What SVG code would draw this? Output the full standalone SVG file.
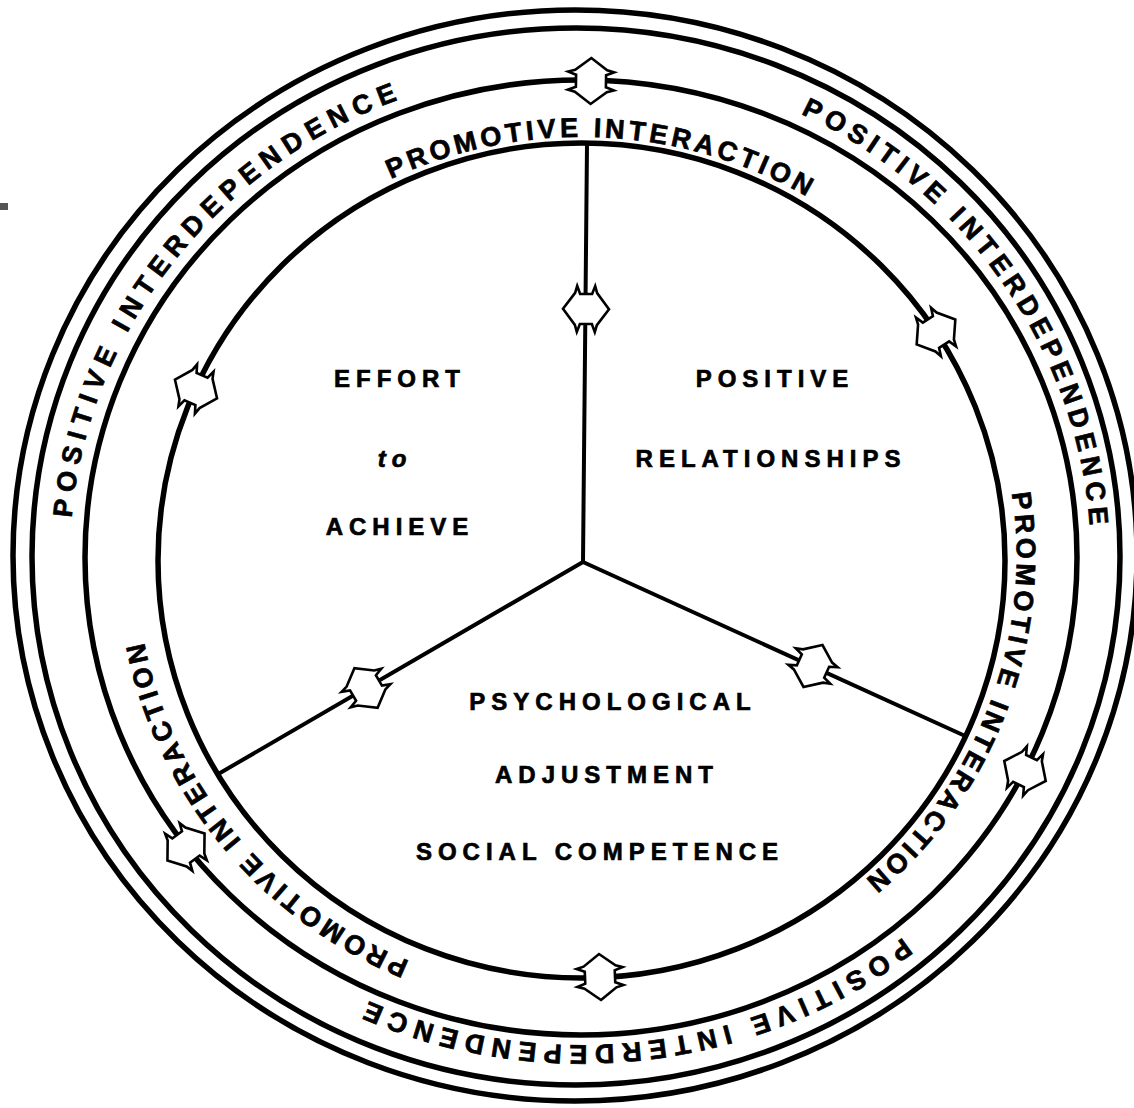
<svg xmlns="http://www.w3.org/2000/svg" xmlns:xlink="http://www.w3.org/1999/xlink" width="1134" height="1108" viewBox="0 0 1134 1108">
<style>
.ring{fill:none;stroke:#000;stroke-width:5.5}
.spoke{fill:none;stroke:#000;stroke-width:4;stroke-linecap:round}
.arr{fill:#fff;stroke:#000;stroke-width:2.6;stroke-linejoin:miter}
.lab{font-family:"Liberation Sans",Arial,Helvetica,sans-serif;font-weight:bold;font-size:24px;letter-spacing:6px;fill:#000;stroke:#000;stroke-width:0.7;text-anchor:middle}
.arc{font-family:"Liberation Sans",Arial,Helvetica,sans-serif;font-weight:bold;font-size:27px;fill:#000;stroke:#000;stroke-width:0.7;text-anchor:start}
.pi{letter-spacing:3.9px}
.pd{letter-spacing:5.5px}
.pl{letter-spacing:6.9px}
.pb{letter-spacing:7.1px}
</style>
<defs>
<path id="arrow" d="M0,-23 L-16,-11 L-23,-9 L-15,-6 L-15,6 L-23,9 L-16,11 L0,23 L16,11 L23,9 L15,6 L15,-6 L23,-9 L16,-11 Z"/>
<path id="p1" d="M559.18,980.42 A436,422 0 1 1 604.82,137.58 A436,422 0 1 1 559.18,980.42"/>
<path id="p2" d="M176.83,407.77 A434,422 0 1 1 987.17,710.23 A434,422 0 1 1 176.83,407.77"/>
<path id="p3" d="M928.61,284.62 A446,436 0 1 1 235.39,833.38 A446,436 0 1 1 928.61,284.62"/>
<path id="p4" d="M988.2,858.51 A512,492 0 1 1 175.8,259.49 A512,492 0 1 1 988.2,858.51"/>
<path id="p5" d="M159.37,831.98 A508,492 0 1 1 1004.63,286.02 A508,492 0 1 1 159.37,831.98"/>
<path id="p6" d="M525.15,76.03 A510,486 0 1 1 638.85,1041.97 A510,486 0 1 1 525.15,76.03"/>
</defs>
<rect width="1134" height="1108" fill="#fff"/>
<rect x="0" y="203" width="8" height="7" fill="#555"/>
<g id="rings">
<ellipse class="ring" cx="575" cy="555.5" rx="562" ry="545.5"/>
<ellipse class="ring" cx="576" cy="556.5" rx="544" ry="528.5"/>
<ellipse class="ring" cx="581" cy="557.5" rx="496" ry="477.5"/>
<ellipse class="ring" cx="581.5" cy="560.5" rx="423.5" ry="417.5"/>
</g>
<g id="connectors">
<line class="spoke" x1="587" y1="145" x2="583" y2="562"/>
<line class="spoke" x1="583" y1="562" x2="220" y2="773"/>
<line class="spoke" x1="583" y1="562" x2="963" y2="735"/>
</g>
<g id="arrows">
<use href="#arrow" class="arr" transform="translate(591,81) rotate(1)"/>
<use href="#arrow" class="arr" transform="translate(936,332) rotate(57.2)"/>
<use href="#arrow" class="arr" transform="translate(196,389) rotate(-66.1)"/>
<use href="#arrow" class="arr" transform="translate(1025,771) rotate(115.7)"/>
<use href="#arrow" class="arr" transform="translate(186,847) rotate(-126.2)"/>
<use href="#arrow" class="arr" transform="translate(600,977) rotate(177.5)"/>
<use href="#arrow" class="arr" transform="translate(586,309) rotate(90.5)"/>
<use href="#arrow" class="arr" transform="translate(366,688) rotate(-30.3)"/>
<use href="#arrow" class="arr" transform="translate(813,666) rotate(24.4)"/>
</g>
<g id="ring-labels">
<text class="arc pi"><textPath href="#p1" startOffset="1129.85">PROMOTIVE</textPath></text>
<text class="arc pi"><textPath href="#p1" startOffset="1338.35">INTERACTION</textPath></text>
<text class="arc pi"><textPath href="#p2" startOffset="1126.75">PROMOTIVE</textPath></text>
<text class="arc pi"><textPath href="#p2" startOffset="1335.25">INTERACTION</textPath></text>
<text class="arc pi"><textPath href="#p3" startOffset="1167.55">PROMOTIVE</textPath></text>
<text class="arc pi"><textPath href="#p3" startOffset="1376.05">INTERACTION</textPath></text>
<text class="arc pl"><textPath href="#p4" startOffset="1294.2">POSITIVE</textPath></text>
<text class="arc pl"><textPath href="#p4" startOffset="1488.4">INTERDEPENDENCE</textPath></text>
<text class="arc pd"><textPath href="#p5" startOffset="1304.6">POSITIVE</textPath></text>
<text class="arc pd"><textPath href="#p5" startOffset="1486.2">INTERDEPENDENCE</textPath></text>
<text class="arc pb"><textPath href="#p6" startOffset="1279.2">POSITIVE</textPath></text>
<text class="arc pb"><textPath href="#p6" startOffset="1475.2">INTERDEPENDENCE</textPath></text>
</g>
<g id="node-effort">
<text class="lab" x="400" y="387">EFFORT</text>
<text class="lab" x="395" y="467" font-style="italic">to</text>
<text class="lab" x="400" y="535">ACHIEVE</text>
</g>
<g id="node-relationships">
<text class="lab" x="775" y="387">POSITIVE</text>
<text class="lab" x="771" y="467">RELATIONSHIPS</text>
</g>
<g id="node-psychological">
<text class="lab" x="613" y="710">PSYCHOLOGICAL</text>
<text class="lab" x="607" y="783">ADJUSTMENT</text>
<text class="lab" x="600" y="860">SOCIAL COMPETENCE</text>
</g>
</svg>
